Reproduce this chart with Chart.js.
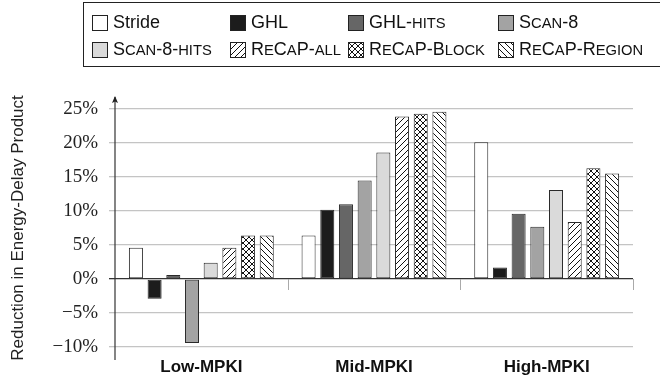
<!DOCTYPE html>
<html>
<head>
<meta charset="utf-8">
<script src="https://cdn.jsdelivr.net/npm/chart.js@4.4.1/dist/chart.umd.min.js"></script>
<style>
  html, body { margin:0; padding:0; background:#fff; }
  #wrap { position:relative; width:660px; height:376px; overflow:hidden; }
  #legend {
    position:absolute; left:83px; top:2px; width:640px; height:65px;
    border:1px solid #222; box-sizing:border-box; padding:6px 0 0 8px;
    display:grid; grid-template-columns:138px 118px 150px auto; grid-auto-rows:27px;
    font:18px "Liberation Sans", Arial, sans-serif; color:#111;
  }
  #legend .it { display:flex; align-items:center; white-space:nowrap; }
  #legend .sc { font-size:82%; }
  #legend canvas { width:14px; height:14px; border:1px solid #222; margin-right:5px; }
</style>
</head>
<body>
<div id="wrap">
  <canvas id="c" width="660" height="376"></canvas>
  <div id="legend"></div>
</div>
<script>
/* EDP reduction per MPKI class (percent). */
const categories = ["Low-MPKI", "Mid-MPKI", "High-MPKI"];
const seriesNames = ["Stride", "GHL", "GHL-hits", "Scan-8", "Scan-8-hits", "ReCaP-all", "ReCaP-Block", "ReCaP-Region"];
const smallCaps   = [false, true, true, true, true, true, true, true];

const stride      = [4.6,  6.4, 20.1];
const ghl         = [-2.9, 10.2, 1.7];
const ghlHits     = [0.6, 11.0,  9.6];
const scan8       = [-9.4, 14.5, 7.7];
const scan8Hits   = [2.4, 18.6, 13.1];
const recapAll    = [4.6, 23.9,  8.4];
const recapBlock  = [6.4, 24.3, 16.3];
const recapRegion = [6.4, 24.6, 15.5];

const yTicks = [-10, -5, 0, 5, 10, 15, 20, 25];

const INK = "#222", GRID = "#c4c4c4";

// hatch tiles: "/" , "x", "\"
function hatchTile(kind){
  const s = 6, c = document.createElement("canvas");
  c.width = s; c.height = s;
  const g = c.getContext("2d");
  g.fillStyle = "#fff"; g.fillRect(0,0,s,s);
  g.strokeStyle = "#111"; g.lineWidth = 1;
  g.beginPath();
  if (kind === "/" || kind === "x"){
    g.moveTo(-1, s+1); g.lineTo(s+1, -1);
    g.moveTo(-1, 1); g.lineTo(1, -1);
    g.moveTo(s-1, s+1); g.lineTo(s+1, s-1);
  }
  if (kind === "\\" || kind === "x"){
    g.moveTo(-1, -1); g.lineTo(s+1, s+1);
    g.moveTo(s-1, -1); g.lineTo(s+1, 1);
    g.moveTo(-1, s-1); g.lineTo(1, s+1);
  }
  g.stroke();
  return c;
}

const ctx = document.getElementById("c").getContext("2d");
const fills = ["#ffffff", "#1c1c1c", "#666666", "#a3a3a3", "#dadada", "/", "x", "\\"];
const fillOf = (g, f) => f.length === 1 ? g.createPattern(hatchTile(f), "repeat") : f;
const values = [stride, ghl, ghlHits, scan8, scan8Hits, recapAll, recapBlock, recapRegion];

const pct = v => (v < 0 ? "\u2212" + Math.abs(v) : v) + "%";

// axis arrow + category separators under the zero line
const decor = {
  id: "decor",
  afterDraw(chart){
    const c = chart.ctx, x = chart.scales.x, y = chart.scales.y;
    const ax = chart.chartArea.left, y0 = y.getPixelForValue(0);
    c.save();
    c.strokeStyle = "#aaa"; c.lineWidth = 1;
    for (let i = 0; i < categories.length; i++){
      const px = Math.round(x.getPixelForValue(i + 0.5)) + 0.5;
      c.beginPath(); c.moveTo(px, y0); c.lineTo(px, y0 + 11); c.stroke();
    }
    c.strokeStyle = "#333"; c.lineWidth = 1.2;
    c.beginPath(); c.moveTo(ax, 360); c.lineTo(ax, 97); c.stroke();
    c.fillStyle = "#222";
    c.beginPath(); c.moveTo(ax, 96); c.lineTo(ax - 3, 103); c.lineTo(ax, 101.5); c.lineTo(ax + 3, 103); c.closePath(); c.fill();
    c.restore();
  }
};

new Chart(ctx, {
  type: "bar",
  data: {
    labels: categories,
    datasets: seriesNames.map((n, i) => ({
      label: n, data: values[i],
      backgroundColor: fillOf(ctx, fills[i]), borderColor: "#2a2a2a", borderWidth: 1,
      borderSkipped: false,
      barPercentage: 0.75, categoryPercentage: 0.866
    }))
  },
  options: {
    responsive: false, animation: false,
    layout: { padding: { top: 109, right: 27, bottom: 0, left: 0 } },
    plugins: { legend: { display: false }, tooltip: { enabled: false } },
    scales: {
      x: {
        grid: { display: false, drawTicks: false }, border: { display: false },
        ticks: { color: "#111", padding: 10, font: { family: "'Liberation Sans', Arial, sans-serif", size: 17, weight: "bold" } },
        afterFit: s => { s.height = 29; }
      },
      y: {
        min: -10, max: 25,
        afterBuildTicks: s => { s.ticks = yTicks.map(v => ({ value: v })); },
        grid: {
          color: c => c.tick && c.tick.value === 0 ? "#333" : GRID,
          lineWidth: 1.3,
          tickLength: 6
        },
        border: { display: false },
        ticks: { color: INK, padding: 11, callback: v => pct(v),
          font: { family: "'Liberation Serif', 'Times New Roman', serif", size: 19 } },
        title: { display: true, text: "Reduction in Energy-Delay Product", color: INK,
          padding: { top: 8, bottom: 0 },
          font: { family: "'Liberation Sans', Arial, sans-serif", size: 17 } },
        afterFit: s => { s.width = 115; }
      }
    }
  },
  plugins: [decor]
});

// HTML legend, small caps written out by hand (lowercase runs -> smaller capitals)
const lg = document.getElementById("legend");
seriesNames.forEach((name, i) => {
  const it = document.createElement("div"); it.className = "it";
  const sw = document.createElement("canvas"); sw.width = 14; sw.height = 14;
  const g = sw.getContext("2d");
  g.fillStyle = fillOf(g, fills[i]);
  g.fillRect(0, 0, 14, 14);
  it.appendChild(sw);
  const t = document.createElement("span");
  if (smallCaps[i]){
    name.match(/[a-z]+|[^a-z]+/g).forEach(part => {
      if (/[a-z]/.test(part)){
        const s = document.createElement("span"); s.className = "sc";
        s.textContent = part.toUpperCase(); t.appendChild(s);
      } else t.appendChild(document.createTextNode(part));
    });
  } else t.textContent = name;
  it.appendChild(t);
  lg.appendChild(it);
});
</script>
</body>
</html>
